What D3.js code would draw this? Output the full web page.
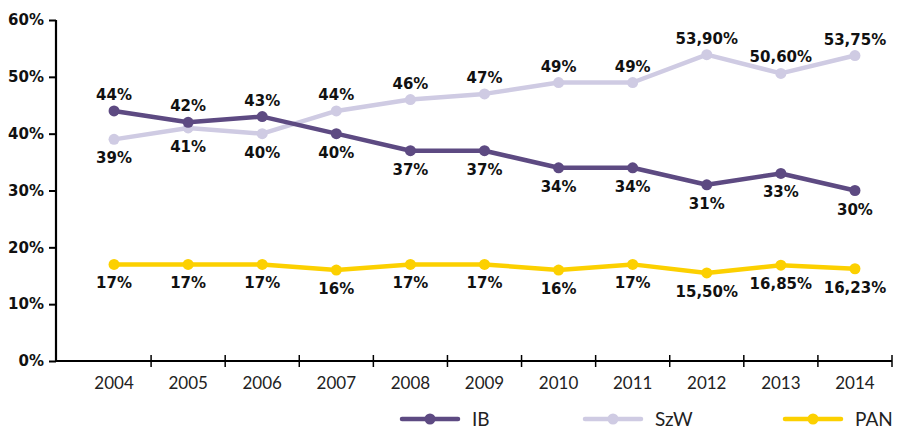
<!DOCTYPE html>
<html>
<head>
<meta charset="utf-8">
<script src="https://cdn.jsdelivr.net/npm/d3@7"></script>
<style>
  html, body { margin: 0; padding: 0; background: #fff; }
  svg { display: block; }
</style>
</head>
<body>
<svg id="chart" width="899" height="430"></svg>
<script>
// Share of each group, per year (percent)
const years = ["2004","2005","2006","2007","2008","2009","2010","2011","2012","2013","2014"];
const ibValues  = [44, 42, 43, 40, 37, 37, 34, 34, 31, 33, 30];
const szwValues = [39, 41, 40, 44, 46, 47, 49, 49, 53.90, 50.60, 53.75];
const panValues = [17, 17, 17, 16, 17, 17, 16, 17, 15.50, 16.85, 16.23];
const yTicks = [0, 10, 20, 30, 40, 50, 60];
const seriesNames = ["IB", "SzW", "PAN"];
const seriesColors = ["#5d4a82", "#cfcbe3", "#fcd000"];
// label placement: first three years of IB above, rest below; SzW the reverse; PAN always below
const ibLabelAbove  = [true, true, true, false, false, false, false, false, false, false, false];
const szwLabelAbove = [false, false, false, true, true, true, true, true, true, true, true];
const panLabelAbove = years.map(() => false);

const series = [
  { name: seriesNames[0], values: ibValues,  color: seriesColors[0], above: ibLabelAbove },
  { name: seriesNames[1], values: szwValues, color: seriesColors[1], above: szwLabelAbove },
  { name: seriesNames[2], values: panValues, color: seriesColors[2], above: panLabelAbove }
];

const svg = d3.select("#chart");
const axisX0 = 56, bandStart = 77, bandEnd = 892;
const yTop = 20, yBottom = 361;

const x = d3.scaleBand().domain(years).range([bandStart, bandEnd]).padding(0);
const y = d3.scaleLinear().domain([0, 60]).range([yBottom, yTop]);
const cx = d => x(d) + x.bandwidth() / 2;

const fmt = v => Number.isInteger(v) ? v + "%" : v.toFixed(2).replace(".", ",") + "%";

// y axis
const yAxis = svg.append("g").attr("transform", `translate(${axisX0},0)`)
  .call(d3.axisLeft(y).tickValues(yTicks).tickSize(7).tickPadding(5).tickFormat(d => d + "%"));
yAxis.select(".domain").attr("stroke", "#000").attr("stroke-width", 2.2)
  .attr("d", `M0,${yTop}V${yBottom}`);
yAxis.selectAll(".tick line").attr("stroke", "#000").attr("stroke-width", 2);
yAxis.selectAll(".tick text")
  .attr("font-family", "'DejaVu Sans', sans-serif")
  .attr("font-weight", "bold").attr("font-size", 15).attr("fill", "#111");

// x axis: baseline from the y axis to the end, ticks on category boundaries
const xg = svg.append("g");
xg.append("line")
  .attr("x1", axisX0 - 1).attr("x2", bandEnd)
  .attr("y1", yBottom).attr("y2", yBottom)
  .attr("stroke", "#000").attr("stroke-width", 2.2);
const boundaries = years.slice(1).map(d => x(d)).concat([x(years[years.length - 1]) + x.bandwidth()]);
xg.selectAll("line.tick").data(boundaries).join("line")
  .attr("class", "tick")
  .attr("x1", d => d).attr("x2", d => d)
  .attr("y1", yBottom - 6).attr("y2", yBottom + 6)
  .attr("stroke", "#000").attr("stroke-width", 1.5);
xg.selectAll("text").data(years).join("text")
  .attr("x", d => cx(d)).attr("y", 389)
  .attr("text-anchor", "middle")
  .attr("font-family", "Lato, sans-serif").attr("font-size", 17).attr("fill", "#222")
  .text(d => d);

// lines, markers and value labels
const line = d3.line().x((v, i) => cx(years[i])).y(v => y(v));
const order = [series[1], series[0], series[2]];
order.forEach(s => {
  const g = svg.append("g");
  g.append("path").datum(s.values)
    .attr("d", line).attr("fill", "none")
    .attr("stroke", s.color).attr("stroke-width", 4.5)
    .attr("stroke-linejoin", "round");
  g.selectAll("circle").data(s.values).join("circle")
    .attr("cx", (v, i) => cx(years[i])).attr("cy", v => y(v))
    .attr("r", 5.5).attr("fill", s.color);
});
series.forEach(s => {
  svg.append("g").selectAll("text").data(s.values).join("text")
    .attr("x", (v, i) => cx(years[i]))
    .attr("y", (v, i) => y(v) + (s.above[i] ? -11 : 24))
    .attr("text-anchor", "middle")
    .attr("font-family", "'DejaVu Sans', sans-serif")
    .attr("font-weight", "bold").attr("font-size", 15).attr("fill", "#111")
    .text(v => fmt(v));
});

// legend
const legendX = [402, 585, 785];
const legend = svg.append("g");
series.forEach((s, i) => {
  const lg = legend.append("g").attr("transform", `translate(${legendX[i]},419)`);
  lg.append("line").attr("x1", 0).attr("x2", 56).attr("y1", 0).attr("y2", 0)
    .attr("stroke", s.color).attr("stroke-width", 4.5).attr("stroke-linecap", "round");
  lg.append("circle").attr("cx", 28).attr("cy", 0).attr("r", 5.5).attr("fill", s.color);
  lg.append("text").attr("x", 70).attr("y", 6.5)
    .attr("font-family", "Lato, sans-serif").attr("font-size", 19).attr("fill", "#222")
    .text(s.name);
});
</script>
</body>
</html>
